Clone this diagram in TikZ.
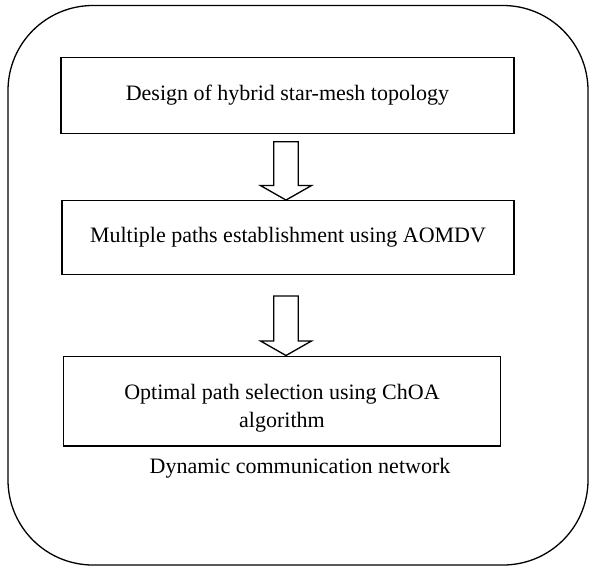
\documentclass[tikz,border=0pt]{standalone}
\usepackage{fontspec}
\setmainfont{Liberation Serif}
\usetikzlibrary{calc}
\begin{document}
\begin{tikzpicture}[x=1pt,y=-1pt,
  stepbox/.style={draw=black,line width=1.3pt,inner sep=0pt,align=center,
    font=\fontsize{22}{28.5}\selectfont},
  steptext/.style={inner sep=0pt,align=center,font=\fontsize{22}{28.5}\selectfont},
  blockarrow/.style={draw=black,line width=1.3pt,fill=white,line join=miter},
  frame/.style={draw=black,line width=1.3pt,rounded corners=85pt}]
\useasboundingbox (0,0) rectangle (589,568);
\draw[frame] (8,5.5) rectangle (588,565);
\node[stepbox,minimum width=453pt,minimum height=75.5pt] (b1) at (287.5,95.4) {Design of hybrid star-mesh topology};
\node[stepbox,minimum width=452pt,minimum height=74pt] (b2) at (288,237.7) {Multiple paths establishment using AOMDV};
\node[stepbox,minimum width=436.5pt,minimum height=89.7pt] (b3) at (282,401) {};
\node[steptext] (b3t) at ($(b3.center)+(0,7)$) {Optimal path selection using ChOA\\algorithm};
\node[steptext] (lbl) at (300,468) {Dynamic communication network};
\coordinate (s1) at (286,141.7);
\coordinate (e1) at (s1 |- b2.north);
\coordinate (s2) at (286,296);
\coordinate (e2) at (s2 |- b3.north);
\foreach \s/\e in {s1/e1,s2/e2}{
  \draw[blockarrow] ($(\s)+(-12.3,0)$) -- ($(\e)+(-12.3,-14.5)$) -- ($(\e)+(-25.5,-14.5)$) -- (\e) -- ($(\e)+(25.5,-14.5)$) -- ($(\e)+(12.3,-14.5)$) -- ($(\s)+(12.3,0)$) -- cycle;
}
\end{tikzpicture}
\end{document}
